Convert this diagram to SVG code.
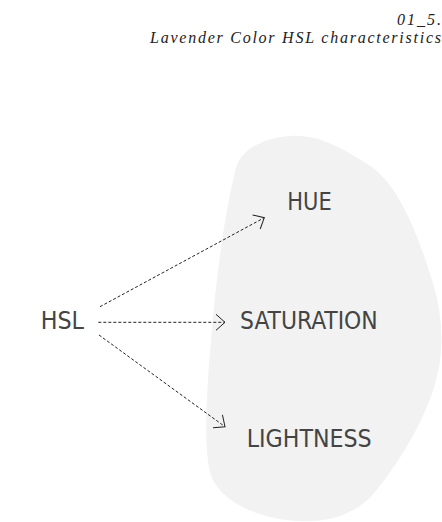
<svg xmlns="http://www.w3.org/2000/svg" width="442" height="522" viewBox="0 0 442 522">
<style>
.title{font-family:"Liberation Serif","Times New Roman",serif;font-style:italic;font-size:16px;fill:#222;text-anchor:end}
.lbl{font-family:"DejaVu Sans Condensed",Roboto,"Liberation Sans",sans-serif;font-size:24px;fill:#444;text-anchor:middle}
.conn{fill:none;stroke:#222;stroke-width:1;stroke-dasharray:3 2}
</style>
<defs>
<marker id="arr" markerUnits="userSpaceOnUse" viewBox="-11 -10 13 20" refX="0" refY="0" markerWidth="13" markerHeight="20" orient="auto">
<path d="M-9,-8 L0,0 L-9,8" fill="none" stroke="#222" stroke-width="1" stroke-dasharray="none"/>
</marker>
</defs>
<rect width="442" height="522" fill="#fff"/>
<g id="title">
<text class="title" x="441" y="25" textLength="44" lengthAdjust="spacing">01_5.</text>
<text class="title" x="441" y="43" textLength="291" lengthAdjust="spacing">Lavender Color HSL characteristics</text>
</g>
<g id="blob">
<path d="M290 136 C320 134 345 150 372 167 C400 188 418 235 432 280 C442 310 444 345 438 372 C430 410 405 455 375 492 C355 516 325 523 297 521 C265 519 225 506 212 478 C203 455 206 400 211 340 C216 280 224 215 236 168 C241 150 262 138 290 136 Z" fill="#f2f2f2"/>
</g>
<g id="connectors">
<line class="conn" x1="100" y1="306.7" x2="264.3" y2="217.7" marker-end="url(#arr)"/>
<line class="conn" x1="98.3" y1="322.3" x2="225" y2="322.3" marker-end="url(#arr)"/>
<line class="conn" x1="99" y1="335" x2="225" y2="426.7" marker-end="url(#arr)"/>
</g>
<g id="node-hsl"><text class="lbl" x="62.3" y="329.3" textLength="43.3" lengthAdjust="spacingAndGlyphs">HSL</text></g>
<g id="node-hue"><text class="lbl" x="309.5" y="210" textLength="44.4" lengthAdjust="spacingAndGlyphs">HUE</text></g>
<g id="node-saturation"><text class="lbl" x="308.9" y="329.3" textLength="137.7" lengthAdjust="spacingAndGlyphs">SATURATION</text></g>
<g id="node-lightness"><text class="lbl" x="309.2" y="446.7" textLength="125" lengthAdjust="spacingAndGlyphs">LIGHTNESS</text></g>
</svg>
